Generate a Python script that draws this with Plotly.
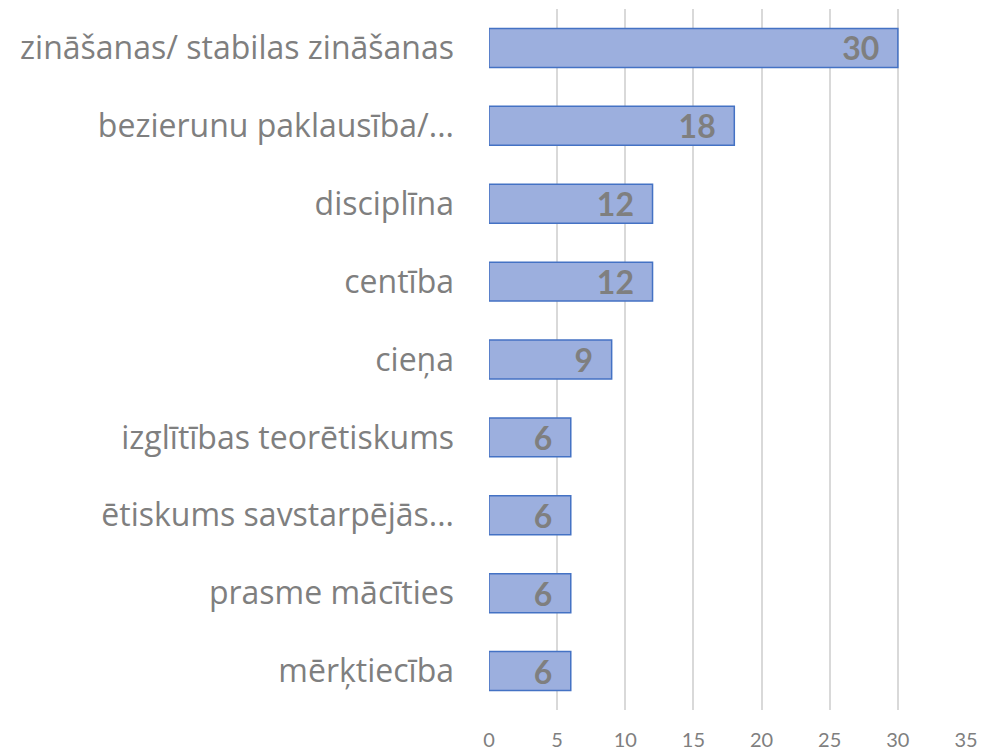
import plotly.graph_objects as go

categories = [
    "zināšanas/ stabilas zināšanas",
    "bezierunu paklausība/...",
    "disciplīna",
    "centība",
    "cieņa",
    "izglītības teorētiskums",
    "ētiskums savstarpējās...",
    "prasme mācīties",
    "mērķtiecība",
]
values = [30, 18, 12, 12, 9, 6, 6, 6, 6]
x_ticks = [0, 5, 10, 15, 20, 25, 30, 35]

FONT = "Lato"
GRAY = "#7f7f7f"

fig = go.Figure(
    go.Bar(
        y=categories,
        x=values,
        orientation="h",
        marker=dict(color="#9cafde", line=dict(color="#4472c4", width=1.5)),
        text=[f"{v}\u00a0\u00a0" for v in values],
        textposition="inside",
        insidetextanchor="end",
        textangle=0,
        constraintext="none",
        textfont=dict(family=FONT, size=32, color=GRAY, weight="bold"),
        cliponaxis=False,
    )
)

fig.update_layout(
    width=981,
    height=752,
    margin=dict(l=489, r=15, t=9, b=42, autoexpand=False),
    paper_bgcolor="white",
    plot_bgcolor="white",
    bargap=0.5,
    showlegend=False,
    font=dict(family=FONT, color=GRAY),
)
fig.update_xaxes(
    range=[0, 35],
    tickvals=x_ticks,
    showgrid=True,
    gridcolor="#d9d9d9",
    gridwidth=1.5,
    zeroline=False,
    showline=False,
    automargin=False,
    tickfont=dict(size=20, color=GRAY),
    ticklabelstandoff=16,
)
fig.update_yaxes(
    autorange="reversed",
    showgrid=False,
    showline=False,
    automargin=False,
    tickfont=dict(family="Open Sans", size=32, color=GRAY),
    ticklabelstandoff=34,
)

fig.write_html(
    "out.html",
    config={"displayModeBar": False},
    post_script="document.body.style.margin='0';",
)
